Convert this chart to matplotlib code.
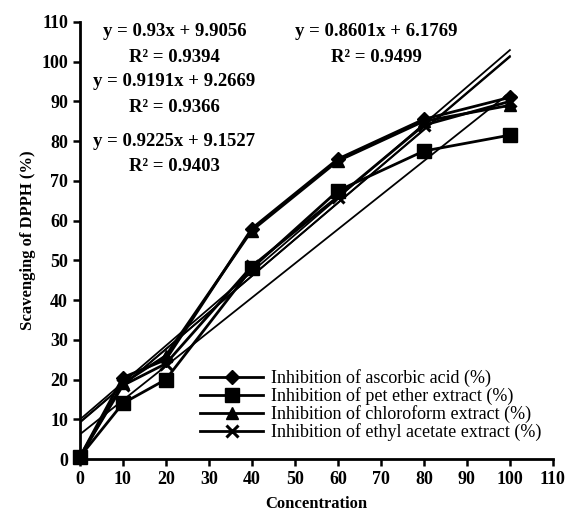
import matplotlib
matplotlib.use("Agg")
import matplotlib.pyplot as plt
import numpy as np

plt.rcParams['font.family'] = ['Liberation Serif', 'DejaVu Serif']

conc = [0, 10, 20, 40, 60, 80, 100]
ascorbic = [0.5, 20.5, 25, 58, 75.5, 85.5, 91]
pet_ether = [0.5, 14, 20, 48, 67.5, 77.5, 81.5]
chloroform = [0.5, 19, 26, 57.5, 75, 85, 89]
ethyl_acetate = [0.5, 18.5, 24, 48.5, 66, 84, 90]

labels = ['Inhibition of ascorbic acid (%)', 'Inhibition of pet ether extract (%)',
          'Inhibition of chloroform extract (%)', 'Inhibition of ethyl acetate extract (%)']
markers = ['D', 's', '^', 'x']
marker_sizes = [7, 10, 8, 9]

# trendline coefficients (slope, intercept, R^2) as printed on the chart
slopes = [0.93, 0.9191, 0.9225, 0.8601]
intercepts = [9.9056, 9.2669, 9.1527, 6.1769]
r2 = [0.9394, 0.9366, 0.9403, 0.9499]
eq_pos = [(22, 107.5, 101), (22, 95, 88.5), (22, 80, 73.5), (69, 107.5, 101)]

fig = plt.figure(figsize=(5.7, 5.21), dpi=100)
ax = fig.add_axes([0.14, 0.119, 0.83, 0.839])

series = [ascorbic, pet_ether, chloroform, ethyl_acetate]
for ys, lab, m, ms in zip(series, labels, markers, marker_sizes):
    ax.plot(conc, ys, color='black', lw=2, marker=m, ms=ms, mew=2.2 if m == 'x' else 1,
            label=lab, clip_on=False, zorder=3)

xfit = np.array([0, 100])
for s, b in zip(slopes, intercepts):
    ax.plot(xfit, s * xfit + b, color='black', lw=1.3, zorder=2)

for s, b, r, (xp, ye, yr) in zip(slopes, intercepts, r2, eq_pos):
    ax.text(xp, ye, f'y = {s}x + {b}', ha='center', va='center', fontsize=13.5, fontweight='bold')
    ax.text(xp, yr, f'R\u00b2 = {r}', ha='center', va='center', fontsize=13.5, fontweight='bold')

ax.set_xlim(0, 110)
ax.set_ylim(0, 110)
ax.set_xticks(range(0, 111, 10))
ax.set_yticks(range(0, 111, 10))
ax.tick_params(direction='out', length=5, width=1.8, labelsize=13)
for t in ax.get_xticklabels() + ax.get_yticklabels():
    t.set_fontweight('bold')
for sp in ['top', 'right']:
    ax.spines[sp].set_visible(False)
for sp in ['left', 'bottom']:
    ax.spines[sp].set_linewidth(2)

ax.set_xlabel('Concentration', fontsize=12, fontweight='bold', labelpad=6)
ax.set_ylabel('Scavenging of DPPH (%)', fontsize=12, fontweight='bold')

leg = ax.legend(loc='lower left', bbox_to_anchor=(28.0, 4.5), bbox_transform=ax.transData,
                frameon=False, fontsize=13, handlelength=3.5, handletextpad=0.4,
                labelspacing=0.0, borderpad=0.0, borderaxespad=0.0)

fig.savefig('out.png', dpi=100, facecolor='white')
